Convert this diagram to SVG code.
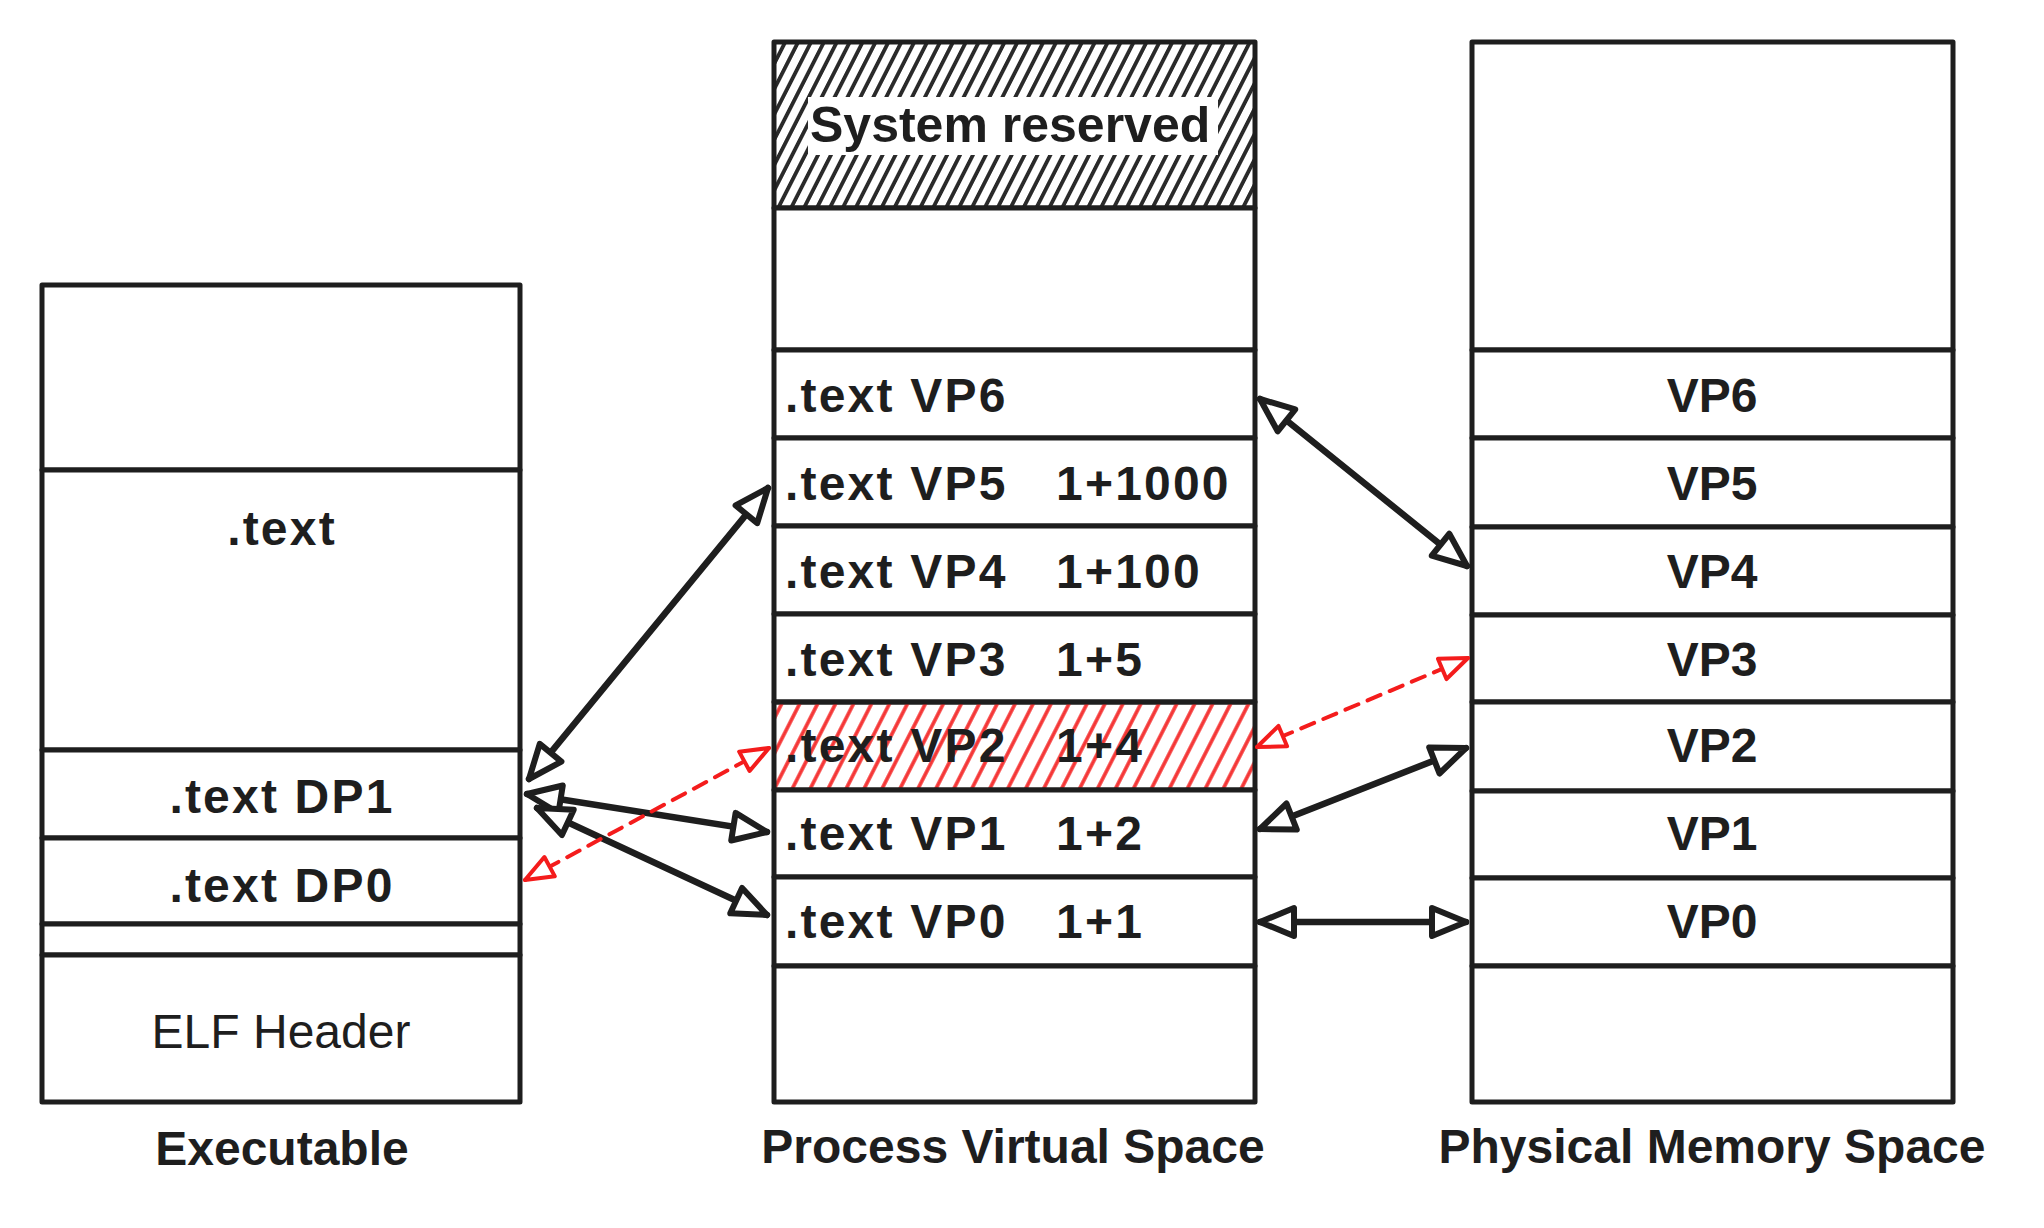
<svg xmlns="http://www.w3.org/2000/svg" width="2044" height="1228" viewBox="0 0 2044 1228">
  <style>
    .box { fill: #ffffff; stroke: #1e1e1e; stroke-width: 5; stroke-linejoin: round; }
    .t { font-family: "Liberation Sans", Arial, sans-serif; font-size: 48px; font-weight: bold; fill: #1e1e1e; }
    .tn { font-family: "Liberation Sans", Arial, sans-serif; font-size: 48px; font-weight: normal; fill: #1e1e1e; }
    .ls { letter-spacing: 2.2px; }
    .c { text-anchor: middle; }
    .arr { fill: none; stroke: #1e1e1e; stroke-width: 6.5; stroke-linecap: round; }
    .red { fill: none; stroke: #f41c1c; stroke-width: 4; stroke-linecap: round; stroke-dasharray: 14 10; }
  </style>
  <defs>
    <pattern id="hatchBlack" width="11.5" height="12" patternUnits="userSpaceOnUse" patternTransform="rotate(27)">
      <line x1="5.75" y1="-1" x2="5.75" y2="13" stroke="#2a2a2a" stroke-width="3.8"/>
    </pattern>
    <pattern id="hatchRed" width="16" height="16" patternUnits="userSpaceOnUse" patternTransform="rotate(27)">
      <line x1="8" y1="-1" x2="8" y2="17" stroke="#f53535" stroke-width="3.6"/>
    </pattern>
    <marker id="headB" viewBox="0 0 40 34" refX="37" refY="17" markerWidth="40" markerHeight="34" markerUnits="userSpaceOnUse" orient="auto-start-reverse" overflow="visible">
      <path d="M3,3 L37,17 L3,31 Z" fill="#ffffff" stroke="#1e1e1e" stroke-width="6" stroke-linejoin="round"/>
    </marker>
    <marker id="headR" viewBox="0 0 34 28" refX="31" refY="14" markerWidth="34" markerHeight="28" markerUnits="userSpaceOnUse" orient="auto-start-reverse" overflow="visible">
      <path d="M3,3 L31,14 L3,25 Z" fill="#ffffff" stroke="#f41c1c" stroke-width="4" stroke-linejoin="round"/>
    </marker>
  </defs>

  <rect width="2044" height="1228" fill="#ffffff"/>

  <!-- Executable -->
  <g id="exe">
    <g id="exe-top"><rect class="box" x="42" y="285" width="478" height="185"/></g>
    <g id="exe-text"><rect class="box" x="42" y="470" width="478" height="280"/>
      <text class="t c ls" x="282" y="545">.text</text></g>
    <g id="exe-dp1"><rect class="box" x="42" y="750" width="478" height="88"/>
      <text class="t c ls" x="282" y="813">.text DP1</text></g>
    <g id="exe-dp0"><rect class="box" x="42" y="838" width="478" height="86"/>
      <text class="t c ls" x="282" y="902">.text DP0</text></g>
    <g id="exe-gap"><rect class="box" x="42" y="924" width="478" height="31"/></g>
    <g id="exe-elf"><rect class="box" x="42" y="955" width="478" height="147"/>
      <text class="tn c" x="281" y="1048">ELF Header</text></g>
    <g id="exe-label"><text class="t c" x="282" y="1165">Executable</text></g>
  </g>

  <!-- Process Virtual Space -->
  <g id="vs">
    <g id="vs-reserved">
      <rect x="774" y="42" width="481" height="166" fill="url(#hatchBlack)"/>
      <rect class="box" x="774" y="42" width="481" height="166" style="fill:none"/>
      <rect x="808" y="97" width="410" height="58" fill="#ffffff"/>
      <text class="t" x="810" y="142" style="font-size:50px">System reserved</text>
    </g>
    <g id="vs-free-top"><rect class="box" x="774" y="208" width="481" height="142"/></g>
    <g id="vs-vp6"><rect class="box" x="774" y="350" width="481" height="88"/>
      <text class="t ls" x="785" y="412">.text VP6</text></g>
    <g id="vs-vp5"><rect class="box" x="774" y="438" width="481" height="88"/>
      <text class="t ls" x="785" y="500">.text VP5<tspan x="1056">1+1000</tspan></text></g>
    <g id="vs-vp4"><rect class="box" x="774" y="526" width="481" height="88"/>
      <text class="t ls" x="785" y="588">.text VP4<tspan x="1056">1+100</tspan></text></g>
    <g id="vs-vp3"><rect class="box" x="774" y="614" width="481" height="88"/>
      <text class="t ls" x="785" y="676">.text VP3<tspan x="1056">1+5</tspan></text></g>
    <g id="vs-vp2">
      <rect x="776" y="704" width="479" height="86" fill="url(#hatchRed)"/>
      <rect class="box" x="774" y="702" width="481" height="88" style="fill:none"/>
      <text class="t ls" x="785" y="762">.text VP2<tspan x="1056">1+4</tspan></text></g>
    <g id="vs-vp1"><rect class="box" x="774" y="790" width="481" height="87"/>
      <text class="t ls" x="785" y="850">.text VP1<tspan x="1056">1+2</tspan></text></g>
    <g id="vs-vp0"><rect class="box" x="774" y="877" width="481" height="89"/>
      <text class="t ls" x="785" y="938">.text VP0<tspan x="1056">1+1</tspan></text></g>
    <g id="vs-free-bottom"><rect class="box" x="774" y="966" width="481" height="136"/></g>
    <g id="vs-label"><text class="t c" x="1013" y="1163">Process Virtual Space</text></g>
  </g>

  <!-- Physical Memory Space -->
  <g id="pm">
    <g id="pm-top"><rect class="box" x="1472" y="42" width="481" height="308"/></g>
    <g id="pm-vp6"><rect class="box" x="1472" y="350" width="481" height="88"/>
      <text class="t c" x="1712" y="412">VP6</text></g>
    <g id="pm-vp5"><rect class="box" x="1472" y="438" width="481" height="89"/>
      <text class="t c" x="1712" y="500">VP5</text></g>
    <g id="pm-vp4"><rect class="box" x="1472" y="527" width="481" height="88"/>
      <text class="t c" x="1712" y="588">VP4</text></g>
    <g id="pm-vp3"><rect class="box" x="1472" y="615" width="481" height="87"/>
      <text class="t c" x="1712" y="676">VP3</text></g>
    <g id="pm-vp2"><rect class="box" x="1472" y="702" width="481" height="89"/>
      <text class="t c" x="1712" y="762">VP2</text></g>
    <g id="pm-vp1"><rect class="box" x="1472" y="791" width="481" height="87"/>
      <text class="t c" x="1712" y="850">VP1</text></g>
    <g id="pm-vp0"><rect class="box" x="1472" y="878" width="481" height="88"/>
      <text class="t c" x="1712" y="938">VP0</text></g>
    <g id="pm-bottom"><rect class="box" x="1472" y="966" width="481" height="136"/></g>
    <g id="pm-label"><text class="t c" x="1712" y="1163">Physical Memory Space</text></g>
  </g>

  <!-- Connectors -->
  <g id="connectors">
    <line class="arr" x1="529" y1="779" x2="768" y2="488" marker-start="url(#headB)" marker-end="url(#headB)"/>
    <line class="arr" x1="527" y1="794" x2="767" y2="832" marker-start="url(#headB)" marker-end="url(#headB)"/>
    <line class="arr" x1="537" y1="808" x2="767" y2="915" marker-start="url(#headB)" marker-end="url(#headB)"/>
    <line class="red" x1="525" y1="880" x2="769" y2="748" marker-start="url(#headR)" marker-end="url(#headR)"/>
    <line class="arr" x1="1260" y1="399" x2="1467" y2="566" marker-start="url(#headB)" marker-end="url(#headB)"/>
    <line class="red" x1="1257" y1="747" x2="1468" y2="658" marker-start="url(#headR)" marker-end="url(#headR)"/>
    <line class="arr" x1="1260" y1="829" x2="1466" y2="748" marker-start="url(#headB)" marker-end="url(#headB)"/>
    <line class="arr" x1="1260" y1="922" x2="1466" y2="922" marker-start="url(#headB)" marker-end="url(#headB)"/>
  </g>
</svg>
